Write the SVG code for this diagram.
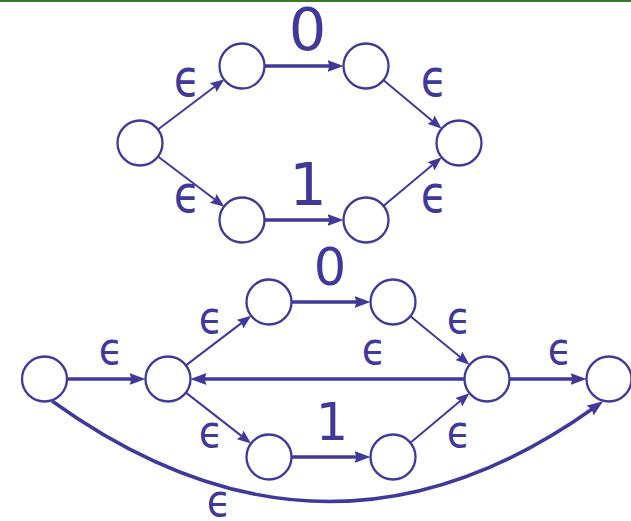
<svg xmlns="http://www.w3.org/2000/svg" width="631" height="521" viewBox="0 0 631 521">
<defs>
<style>
.node{fill:#fff;stroke:#41399a;stroke-width:2.3}
.thick{fill:none;stroke:#41399a;stroke-width:3.5}
.thin{fill:none;stroke:#41399a;stroke-width:2}
.lbl{fill:#41399a;font-family:"DejaVu Sans",sans-serif;text-anchor:middle}
.eps{font-size:52px}
.eps2{font-size:45px}
.dig{font-size:59px}
.dig2{font-size:51px}
</style>
<marker id="ah" markerUnits="userSpaceOnUse" markerWidth="16" markerHeight="12" refX="6" refY="6" orient="auto">
<path d="M0,0 L16,6 L0,12 L2,6 z" fill="#41399a"/>
</marker>
<marker id="as" markerUnits="userSpaceOnUse" markerWidth="14" markerHeight="11" refX="5" refY="5.5" orient="auto">
<path d="M0,0 L14,5.5 L0,11 L2,5.5 z" fill="#41399a"/>
</marker>
</defs>
<rect x="0" y="0" width="631" height="521" fill="#fff"/>
<rect x="0" y="0" width="631" height="2" fill="#3a7a2c"/>

<g id="connectors">
<line class="thin" x1="157.6" y1="129.7" x2="217.2" y2="84.7" marker-end="url(#as)"/>
<line class="thin" x1="157.6" y1="156.3" x2="217.2" y2="201.3" marker-end="url(#as)"/>
<line class="thick" x1="264.5" y1="66" x2="333.5" y2="66" marker-end="url(#ah)"/>
<line class="thick" x1="264.5" y1="220" x2="333.5" y2="220" marker-end="url(#ah)"/>
<line class="thin" x1="383.3" y1="80" x2="434.8" y2="122.9" marker-end="url(#as)"/>
<line class="thin" x1="383.3" y1="206" x2="434.8" y2="163.1" marker-end="url(#as)"/>
<line class="thick" x1="67" y1="379" x2="135.5" y2="379" marker-end="url(#ah)"/>
<line class="thin" x1="185.9" y1="365.4" x2="244" y2="321.1" marker-end="url(#as)"/>
<line class="thin" x1="185.9" y1="392.6" x2="244" y2="437.9" marker-end="url(#as)"/>
<line class="thick" x1="291.5" y1="302" x2="360.5" y2="302" marker-end="url(#ah)"/>
<line class="thick" x1="291.5" y1="457" x2="360.5" y2="457" marker-end="url(#ah)"/>
<line class="thin" x1="410.4" y1="316.3" x2="462.6" y2="359" marker-end="url(#as)"/>
<line class="thin" x1="410.4" y1="442.7" x2="462.6" y2="399" marker-end="url(#as)"/>
<line class="thick" x1="464.5" y1="379" x2="200.5" y2="379" marker-end="url(#ah)"/>
<line class="thick" x1="509.5" y1="379" x2="576.5" y2="379" marker-end="url(#ah)"/>
<path class="thick" d="M52,401 Q327,599 595,407" marker-end="url(#ah)"/>
</g>

<g id="top-n1"><circle class="node" cx="140" cy="143" r="22.5"/></g>
<g id="top-n2"><circle class="node" cx="242" cy="66" r="22.5"/></g>
<g id="top-n3"><circle class="node" cx="366" cy="66" r="22.5"/></g>
<g id="top-n4"><circle class="node" cx="242" cy="220" r="22.5"/></g>
<g id="top-n5"><circle class="node" cx="366" cy="220" r="22.5"/></g>
<g id="top-n6"><circle class="node" cx="459" cy="143" r="22.5"/></g>

<g id="bot-n1"><circle class="node" cx="44.5" cy="379" r="22.5"/></g>
<g id="bot-n2"><circle class="node" cx="168" cy="379" r="22.5"/></g>
<g id="bot-n3"><circle class="node" cx="269" cy="302" r="22.5"/></g>
<g id="bot-n4"><circle class="node" cx="269" cy="457" r="22.5"/></g>
<g id="bot-n5"><circle class="node" cx="393" cy="302" r="22.5"/></g>
<g id="bot-n6"><circle class="node" cx="393" cy="457" r="22.5"/></g>
<g id="bot-n7"><circle class="node" cx="487" cy="379" r="22.5"/></g>
<g id="bot-n8"><circle class="node" cx="609" cy="379" r="22.5"/></g>

<g id="labels">
<text class="lbl dig" x="307.5" y="50">0</text>
<text class="lbl dig" x="308" y="205">1</text>
<text class="lbl eps" transform="translate(187,96) scale(0.83,1)">ϵ</text>
<text class="lbl eps" transform="translate(434,96) scale(0.83,1)">ϵ</text>
<text class="lbl eps" transform="translate(187,212) scale(0.83,1)">ϵ</text>
<text class="lbl eps" transform="translate(434,212) scale(0.83,1)">ϵ</text>
<text class="lbl dig2" x="330" y="285">0</text>
<text class="lbl dig2" x="332" y="440">1</text>
<text class="lbl eps2" transform="translate(111,364) scale(0.88,1)">ϵ</text>
<text class="lbl eps2" transform="translate(211,333) scale(0.88,1)">ϵ</text>
<text class="lbl eps2" transform="translate(211,447) scale(0.88,1)">ϵ</text>
<text class="lbl eps2" transform="translate(219,516) scale(0.88,1)">ϵ</text>
<text class="lbl eps2" transform="translate(459,333) scale(0.88,1)">ϵ</text>
<text class="lbl eps2" transform="translate(374,364) scale(0.88,1)">ϵ</text>
<text class="lbl eps2" transform="translate(560,364) scale(0.88,1)">ϵ</text>
<text class="lbl eps2" transform="translate(459,447) scale(0.88,1)">ϵ</text>
</g>
</svg>
